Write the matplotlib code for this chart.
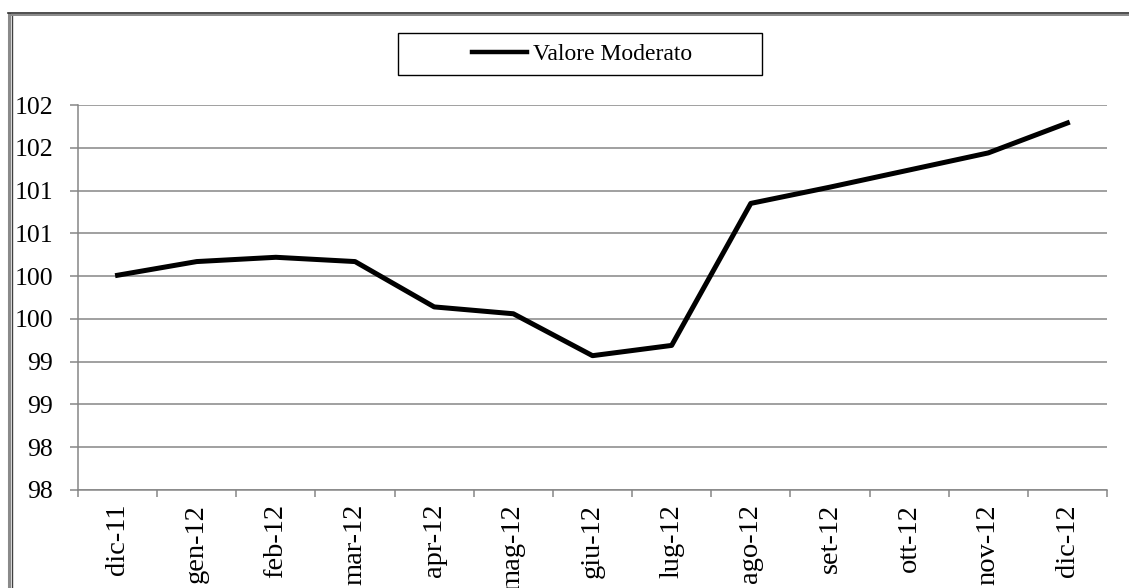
# Valore Moderato - monthly line chart
import matplotlib
matplotlib.use("Agg")
import matplotlib.pyplot as plt
from matplotlib.lines import Line2D
from matplotlib.patches import Rectangle

plt.rcParams['font.family'] = ['Liberation Serif', 'DejaVu Serif']

months = ["dic-11", "gen-12", "feb-12", "mar-12", "apr-12", "mag-12", "giu-12",
          "lug-12", "ago-12", "set-12", "ott-12", "nov-12", "dic-12"]
valore_moderato = [100.01, 100.17, 100.22, 100.17, 99.64, 99.56, 99.07,
                   99.19, 100.85, 101.04, 101.24, 101.44, 101.79]
y_ticks = [97.5, 98.0, 98.5, 99.0, 99.5, 100.0, 100.5, 101.0, 101.5, 102.0]
y_tick_labels = ["98", "98", "99", "99", "100", "100", "101", "101", "102", "102"]

W, H = 1129, 588
fig = plt.figure(figsize=(W / 100, H / 100), dpi=100)
ax = fig.add_axes([78 / W, 1 - 490 / H, (1107 - 78) / W, (490 - 105) / H])

x = list(range(len(months)))
line, = ax.plot(x, valore_moderato, color="black", lw=3.6, solid_joinstyle="round",
                label="Valore Moderato")

grid_c = "#868686"
ax.set_xlim(-0.5, len(months) - 0.5)
ax.set_ylim(97.5, 102.0)
ax.set_yticks(y_ticks)
ax.set_yticklabels(y_tick_labels, fontsize=18.5)
ax.yaxis.grid(True, color=grid_c, lw=1.1)
ax.set_axisbelow(True)
ax.tick_params(axis="y", length=5.8, width=1.1, color=grid_c, pad=12)

ax.set_xticks(x)
ax.set_xticklabels(months, rotation=90, fontsize=20.5, va="top", ha="center")
ax.tick_params(axis="x", which="major", length=0, pad=10)
ax.set_xticks([i - 0.5 for i in range(len(months) + 1)], minor=True)
ax.tick_params(axis="x", which="minor", length=5, width=1.1, color=grid_c)

for side in ["top", "right"]:
    ax.spines[side].set_visible(False)
for side in ["left", "bottom"]:
    ax.spines[side].set_color(grid_c)
    ax.spines[side].set_linewidth(1.1)

# legend box drawn by hand, legend content centred in it
fig.add_artist(Rectangle((398 / W, 1 - 75 / H), (762 - 398) / W, 42 / H,
                         transform=fig.transFigure, fill=False, ec="black", lw=1.0))
leg = fig.legend(handles=[line], loc="center", bbox_to_anchor=(582 / W, 1 - 54 / H),
                 fontsize=17, frameon=False, handlelength=2.3, handletextpad=0.25)
for h in leg.legend_handles:
    h.set_linewidth(3.2)

# outer chart border (left and top double line)
fig.add_artist(Line2D([8.5 / W, 8.5 / W], [0, 1 - 14 / H], color="#8a8a8a", lw=2.2))
fig.add_artist(Line2D([11.5 / W, 11.5 / W], [0, 1 - 15 / H], color="#404040", lw=1.0))
fig.add_artist(Line2D([8 / W, 1], [1 - 13 / H, 1 - 13 / H], color="#303030", lw=1.2))
fig.add_artist(Line2D([11 / W, 1], [1 - 15 / H, 1 - 15 / H], color="#8a8a8a", lw=1.4))

fig.savefig("out.png", dpi=100)
